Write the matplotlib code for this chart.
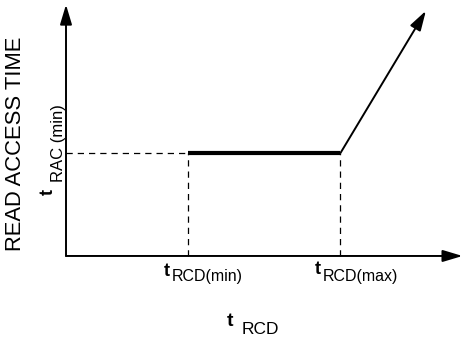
import numpy as np
import matplotlib.pyplot as plt

plt.rcParams['font.family'] = ['Liberation Sans', 'DejaVu Sans']

# timing values (arbitrary units)
t_rcd_min = 2.0
t_rcd_max = 4.5
t_rac_min = 1.0
curve_x = [t_rcd_min, t_rcd_max, 5.9]
curve_y = [t_rac_min, t_rac_min, 2.38]

W, H = 465, 339
fig = plt.figure(figsize=(W / 100, H / 100), dpi=100)
ax = fig.add_axes([0, 0, 1, 1])
ax.set_xlim(-1.082, 6.541)
ax.set_ylim(-0.806, 2.485)
ax.axis('off')


def fx(px):
    return px / W


def fy(py):
    return 1 - py / H


# axes with arrow heads
arrow = dict(arrowstyle='-|>,head_length=1.2,head_width=0.36', color='black', lw=1.4,
             shrinkA=0, shrinkB=0)
ax.annotate('', xy=(0, 2.44), xytext=(0, 0), arrowprops=arrow)
ax.annotate('', xy=(6.5, 0), xytext=(0, 0), arrowprops=arrow)

# dashed guide lines
ax.plot([0, t_rcd_min], [t_rac_min, t_rac_min], color='black', lw=0.9, ls=(0, (5, 4)))
ax.plot([t_rcd_min, t_rcd_min], [0, t_rac_min], color='black', lw=0.9, ls=(0, (5, 4)))
ax.plot([t_rcd_max, t_rcd_max], [0, t_rac_min], color='black', lw=0.9, ls=(0, (5, 4)))

# access time curve
ax.plot(curve_x[:2], curve_y[:2], color='black', lw=3.0, solid_capstyle='butt')
ax.annotate('', xy=(curve_x[2], curve_y[2]), xytext=(curve_x[1], curve_y[1]), arrowprops=arrow)

# labels
fig.text(fx(16), fy(144), 'READ ACCESS TIME', rotation=90, fontsize=15.8,
         ha='center', va='center')
fig.text(fx(48), fy(192), 't', rotation=90, fontsize=13, fontweight='bold',
         ha='center', va='center')
fig.text(fx(58), fy(182), 'RAC (min)', rotation=90, fontsize=12, ha='center', va='bottom')

fig.text(fx(167), fy(271), 't', fontsize=13, fontweight='bold', ha='center', va='center')
fig.text(fx(172), fy(277), 'RCD(min)', fontsize=11.5, ha='left', va='center')
fig.text(fx(318), fy(270), 't', fontsize=13, fontweight='bold', ha='center', va='center')
fig.text(fx(323), fy(276), 'RCD(max)', fontsize=11.5, ha='left', va='center')

fig.text(fx(230), fy(322), 't', fontsize=14, fontweight='bold', ha='center', va='center')
fig.text(fx(242), fy(329), 'RCD', fontsize=12.5, ha='left', va='center')

fig.savefig('out.png', dpi=100)
